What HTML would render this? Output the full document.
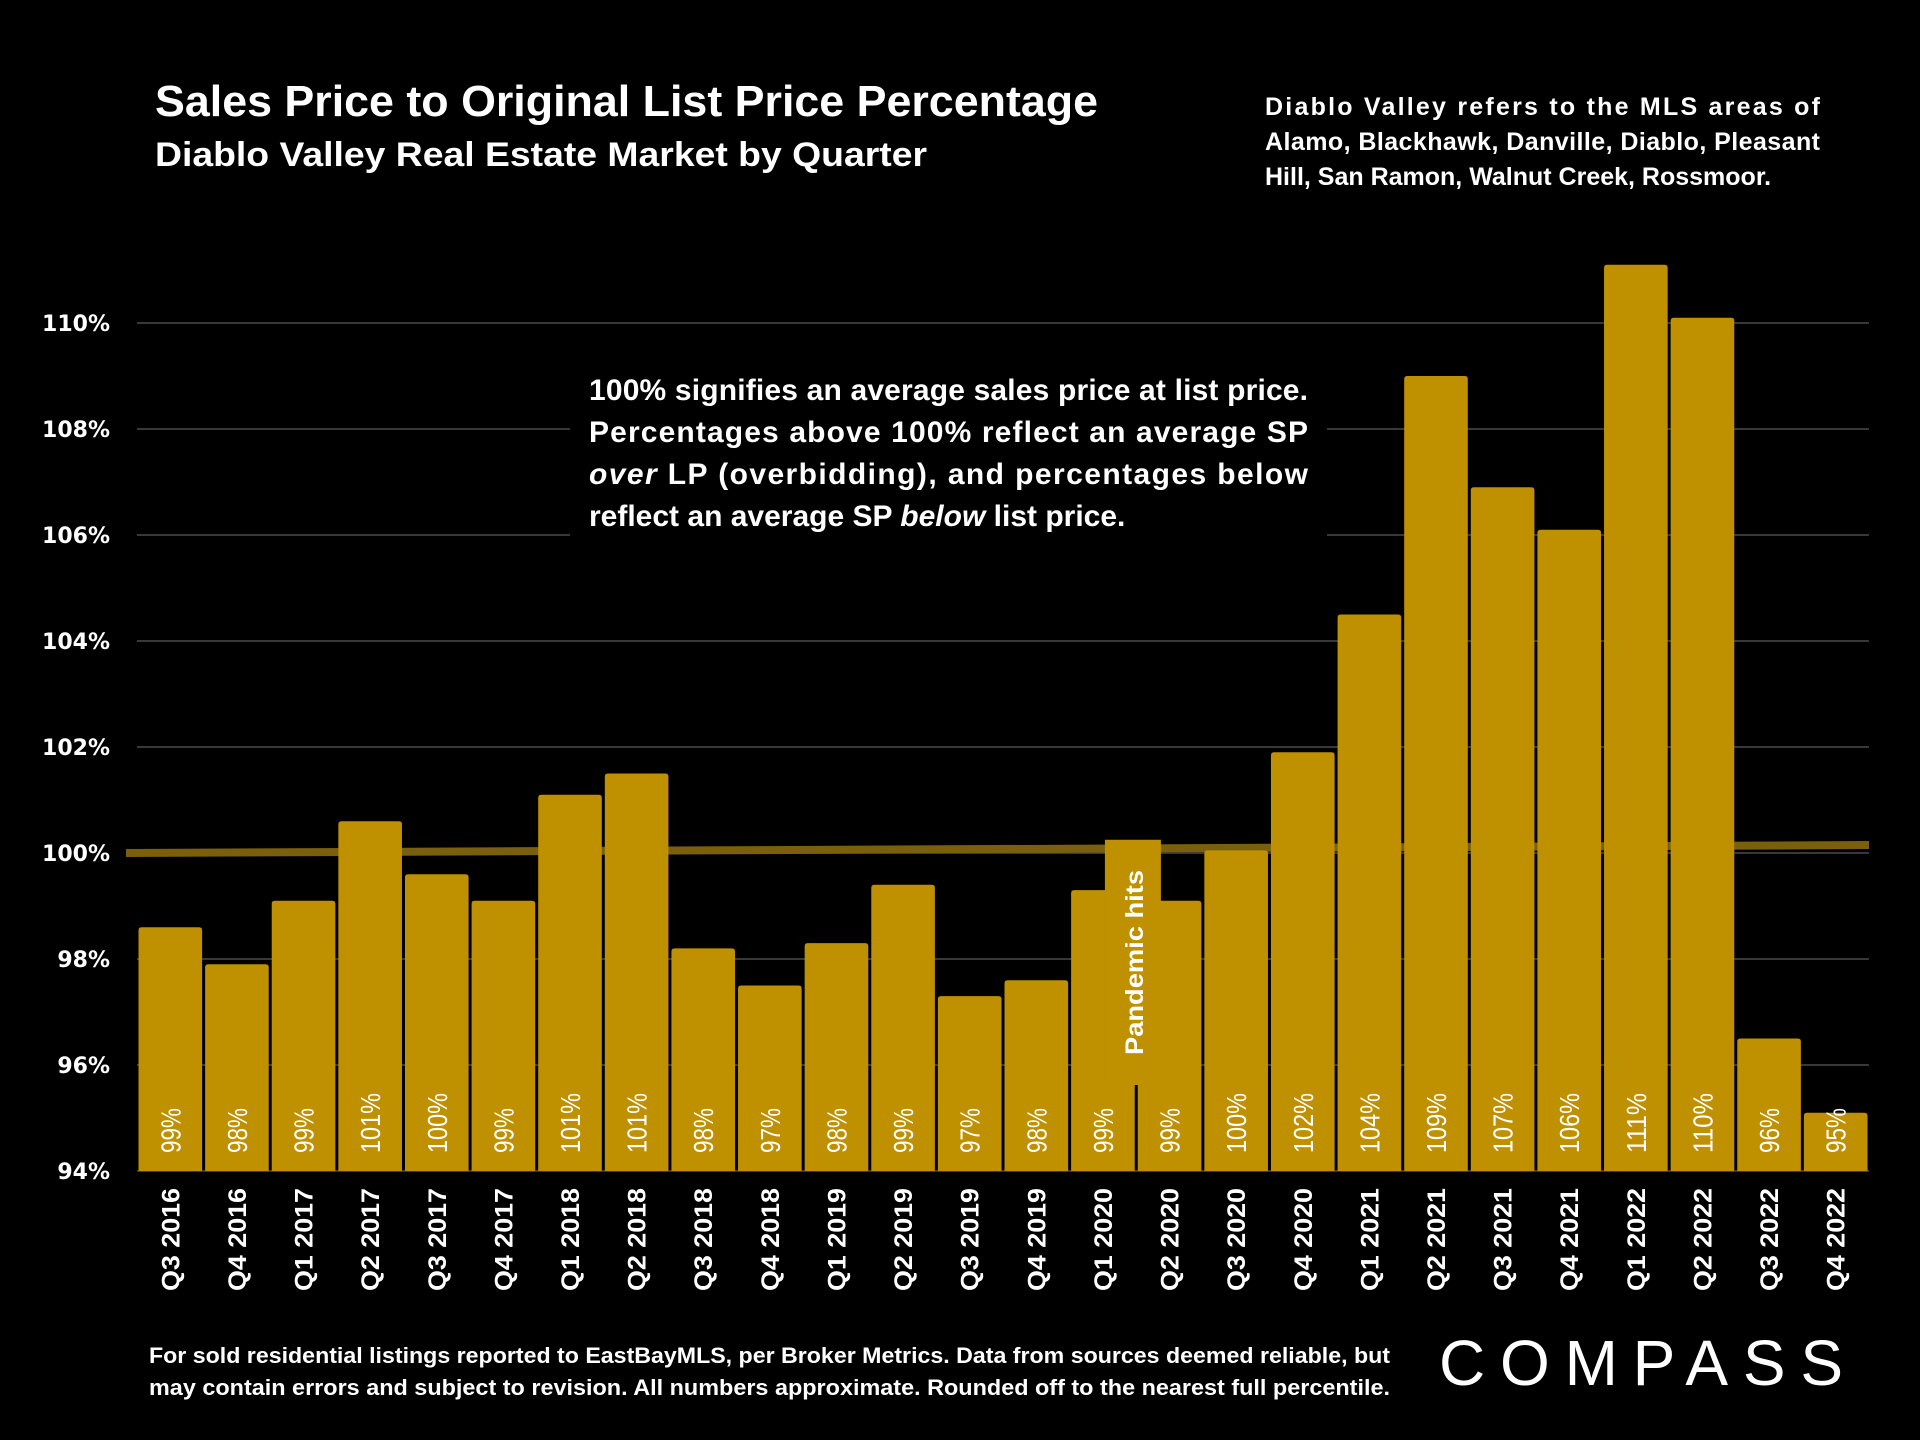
<!DOCTYPE html>
<html><head><meta charset="utf-8"><style>
html,body{margin:0;padding:0;background:#000;}
svg{display:block;font-family:"Liberation Sans",sans-serif;}
</style></head><body>
<svg id="chart" width="1920" height="1440" viewBox="0 0 1920 1440" xmlns="http://www.w3.org/2000/svg">
<rect width="1920" height="1440" fill="#000"/>
<text x="155" y="116" fill="#fff" font-weight="bold" font-size="44" textLength="943" lengthAdjust="spacingAndGlyphs">Sales Price to Original List Price Percentage</text>
<text x="155" y="166" fill="#fff" font-weight="bold" font-size="34" textLength="772" lengthAdjust="spacingAndGlyphs">Diablo Valley Real Estate Market by Quarter</text>
<g fill="#fff" font-weight="bold" font-size="25">
<text x="1265" y="115" textLength="555" lengthAdjust="spacing">Diablo Valley refers to the MLS areas of</text>
<text x="1265" y="150" textLength="555" lengthAdjust="spacing">Alamo, Blackhawk, Danville, Diablo, Pleasant</text>
<text x="1265" y="185">Hill, San Ramon, Walnut Creek, Rossmoor.</text>
</g>
<g id="grid"></g>
<g id="yaxis"></g>
<line id="trend" stroke="#7a5f0c" stroke-width="8"/>
<g id="bars"></g>
<g id="xaxis"></g>
<rect x="570" y="367" width="757" height="172" fill="#000"/>
<g fill="#fff" font-weight="bold" font-size="30">
<text x="589" y="400" textLength="719" lengthAdjust="spacing">100% signifies an average sales price at list price.</text>
<text x="589" y="442" textLength="719" lengthAdjust="spacing">Percentages above 100% reflect an average SP</text>
<text x="589" y="484" textLength="719" lengthAdjust="spacing"><tspan font-style="italic">over</tspan> LP (overbidding), and percentages below</text>
<text x="589" y="526">reflect an average SP <tspan font-style="italic">below</tspan> list price.</text>
</g>
<g fill="#fff" font-weight="bold" font-size="22">
<text x="149" y="1363" textLength="1241" lengthAdjust="spacingAndGlyphs">For sold residential listings reported to EastBayMLS, per Broker Metrics. Data from sources deemed reliable, but</text>
<text x="149" y="1395" textLength="1241" lengthAdjust="spacingAndGlyphs">may contain errors and subject to revision. All numbers approximate. Rounded off to the nearest full percentile.</text>
</g>
<text x="1439" y="1385" fill="#fff" font-size="64" textLength="404" lengthAdjust="spacing">COMPASS</text>
</svg>
<script>
const categories=["Q3 2016","Q4 2016","Q1 2017","Q2 2017","Q3 2017","Q4 2017","Q1 2018","Q2 2018","Q3 2018","Q4 2018","Q1 2019","Q2 2019","Q3 2019","Q4 2019","Q1 2020","Q2 2020","Q3 2020","Q4 2020","Q1 2021","Q2 2021","Q3 2021","Q4 2021","Q1 2022","Q2 2022","Q3 2022","Q4 2022"];
const values=[98.6,97.9,99.1,100.6,99.6,99.1,101.1,101.5,98.2,97.5,98.3,99.4,97.3,97.6,99.3,99.1,100.05,101.9,104.5,109.0,106.9,106.1,111.1,110.1,96.5,95.1];
const valueLabels=["99%","98%","99%","101%","100%","99%","101%","101%","98%","97%","98%","99%","97%","98%","99%","99%","100%","102%","104%","109%","107%","106%","111%","110%","96%","95%"];
const yTicks=[94,96,98,100,102,104,106,108,110];
const yTickLabels=["94%","96%","98%","100%","102%","104%","106%","108%","110%"];
const trendValues=[100.0,100.15];
const annotationIndex=[14.95];
const annotationTop=[100.25];

const NS="http://www.w3.org/2000/svg";
const X0=137,X1=1869,YMIN=94,YMAX=110,Y0=1171,Y1=323;
const slot=(X1-X0)/categories.length;
function y(v){return Y0-(v-YMIN)/(YMAX-YMIN)*(Y0-Y1);}
function xc(i){return X0+slot*(i+0.5);}
function mk(tag,attrs,parent,txt){const e=document.createElementNS(NS,tag);for(const k in attrs)e.setAttribute(k,attrs[k]);if(txt!==undefined)e.textContent=txt;parent.appendChild(e);return e;}

const grid=document.getElementById('grid'),yaxis=document.getElementById('yaxis');
yTicks.forEach((t,i)=>{
  const l=mk('line',{x1:X0,x2:X1,y1:y(t),y2:y(t),stroke:'#4a4a4a','stroke-width':1.5},grid);
  
  
  const tx=mk('text',{x:110,y:y(t)+8,'text-anchor':'end',fill:'#fff','font-weight':'bold','font-size':22,'font-family':'"DejaVu Sans",sans-serif'},yaxis,yTickLabels[i]);
  
  
});
const tr=document.getElementById('trend');
tr.setAttribute('x1',126);tr.setAttribute('x2',X1);
tr.setAttribute('y1',y(trendValues[0]));tr.setAttribute('y2',y(trendValues[1]));

const bars=document.getElementById('bars'),xaxis=document.getElementById('xaxis');
const bw=slot-3;
values.forEach((v,i)=>{
  const x=xc(i)-bw/2,top=y(v);
  const b=mk('path',{d:`M${x},${Y0} V${top+3} Q${x},${top} ${x+3},${top} H${x+bw-3} Q${x+bw},${top} ${x+bw},${top+3} V${Y0} Z`,fill:'#bf9000'},bars);
  
  
  const vl=mk('text',{transform:`translate(${xc(i)+10},1153) rotate(-90)`,fill:'#fff','font-size':28,textLength:String(valueLabels[i].length*15),lengthAdjust:'spacingAndGlyphs'},bars,valueLabels[i]);
  
  
  const xl=mk('text',{transform:`translate(${xc(i)+9},1188) rotate(-90)`,'text-anchor':'end',fill:'#fff','font-weight':'bold','font-size':25,textLength:'103',lengthAdjust:'spacingAndGlyphs'},xaxis,categories[i]);
  
  
});
const ax=X0+slot*annotationIndex[0];
const pb=mk('rect',{x:ax-28,y:y(annotationTop[0]),width:56,height:1085-y(annotationTop[0]),fill:'#bf9000'},bars);


const pt=mk('text',{transform:`translate(${ax+10},1055) rotate(-90)`,fill:'#fff','font-weight':'bold','font-size':25,textLength:'185',lengthAdjust:'spacingAndGlyphs'},bars,'Pandemic hits');


</script>
</body></html>
